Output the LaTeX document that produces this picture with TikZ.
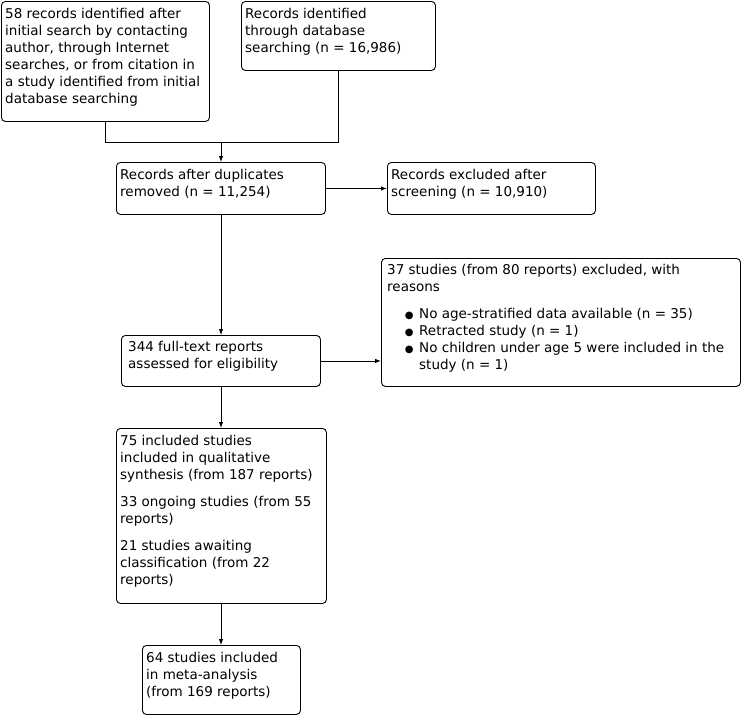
\documentclass[tikz,border=0pt]{standalone}
\usepackage{fontspec}
\setmainfont{DejaVu Sans}
\usetikzlibrary{arrows.meta,calc}
\newcommand{\mybul}{\hspace*{19pt}\makebox[13pt][l]{\makebox[6pt][c]{\raisebox{0.5pt}{\fontsize{10}{10}\selectfont ●}}}}
\begin{document}
\begin{tikzpicture}[x=1pt,y=-1pt,
  box/.style={draw,line width=0.9pt,rounded corners=4pt,inner sep=0pt,anchor=north west},
  txt/.style={anchor=north west,inner sep=0pt,align=left,font=\fontsize{13.5}{17}\selectfont},
  arr/.style={line width=0.9pt,-{Latex[length=6pt,width=4.5pt]}},
  ln/.style={line width=0.9pt}]
\useasboundingbox (0,0) rectangle (742,715);
% boxes
\node[box,minimum width=208pt,minimum height=120pt] (a) at (1,1) {};
\node[box,minimum width=194pt,minimum height=69pt] (b) at (241,1) {};
\node[box,minimum width=209pt,minimum height=52pt] (c) at (116,162) {};
\node[box,minimum width=208pt,minimum height=52pt] (d) at (387,162) {};
\node[box,minimum width=199pt,minimum height=51pt] (e) at (121,335) {};
\node[box,minimum width=359pt,minimum height=128pt] (f) at (381,258) {};
\node[box,minimum width=210pt,minimum height=175pt] (g) at (116,428) {};
\node[box,minimum width=158pt,minimum height=69pt] (h) at (142,645) {};
% texts
\node[txt] (ta) at ($(a.north west)+(4,7.5)$) {58 records identified after\\initial search by contacting\\author, through Internet\\searches, or from citation in\\a study identified from initial\\database searching};
\node[txt] (tb) at ($(b.north west)+(4,7.5)$) {Records identified\\through database\\searching (n = 16,986)};
\node[txt] (tc) at ($(c.north west)+(4,7.5)$) {Records after duplicates\\removed (n = 11,254)};
\node[txt] (td) at ($(d.north west)+(4,7.5)$) {Records excluded after\\screening (n = 10,910)};
\node[txt] (te) at ($(e.north west)+(7,6)$) {344 full-text reports\\assessed for eligibility};
\node[txt] (tf) at ($(f.north west)+(6,6.5)$) {37 studies (from 80 reports) excluded, with\\reasons\\[10pt]
\mybul No age-stratified data available (n = 35)\\
\mybul Retracted study (n = 1)\\
\mybul No children under age 5 were included in the\\
\hspace*{32pt}study (n = 1)};
\node[txt] (tg) at ($(g.north west)+(4,7.5)$) {75 included studies\\included in qualitative\\synthesis (from 187 reports)\\[10pt]33 ongoing studies (from 55\\reports)\\[10pt]21 studies awaiting\\classification (from 22\\reports)};
\node[txt] (th) at ($(h.north west)+(4,7.5)$) {64 studies included\\in meta-analysis\\(from 169 reports)};
% connectors
\coordinate (m) at (221,142);
\draw[ln] (a.south) |- (m);
\draw[ln] (b.south) |- (m);
\draw[arr] (m) -- (m |- c.north);
\draw[arr] (c.east) -- (d.west);
\draw[arr] (c.south -| m) -- (m |- e.north);
\draw[arr] (e.east) -- (e.east -| f.west);
\draw[arr] (e.south -| m) -- (m |- g.north);
\draw[arr] (g.south -| m) -- (m |- h.north);
\end{tikzpicture}
\end{document}
